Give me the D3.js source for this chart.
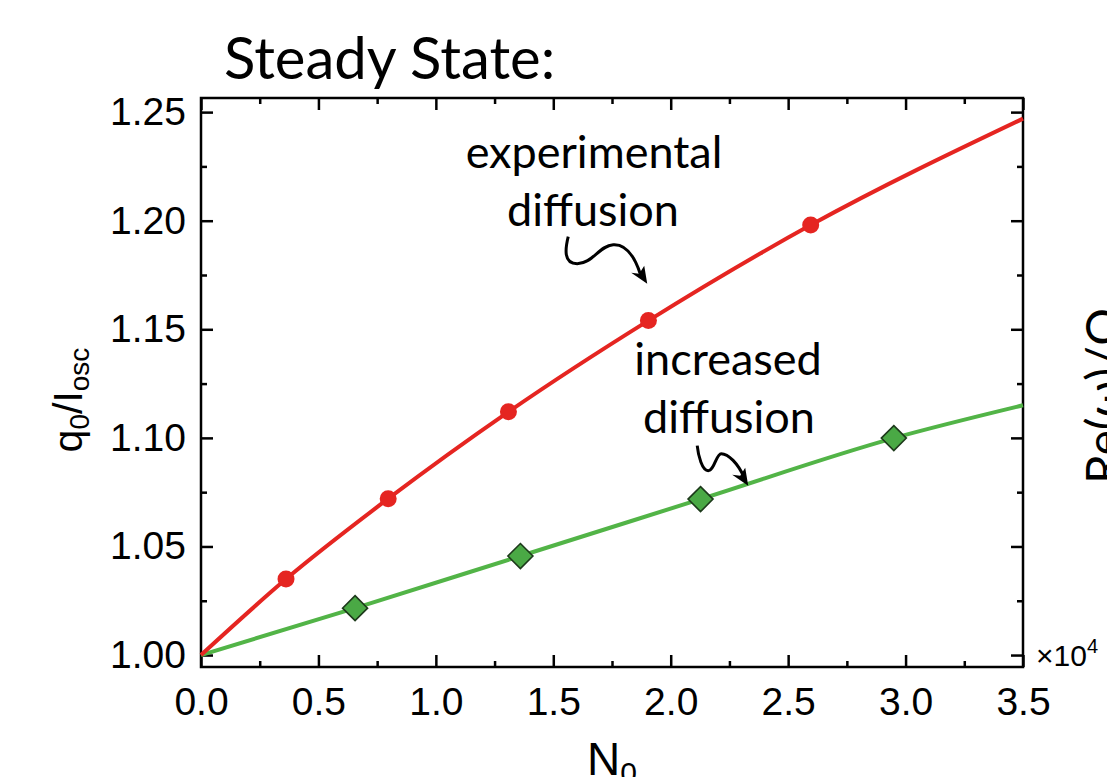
<!DOCTYPE html>
<html>
<head>
<meta charset="utf-8">
<script src="https://cdn.jsdelivr.net/npm/d3@7"></script>
<style>
body { margin: 0; background: #fff; }
svg { display: block; }
</style>
</head>
<body>
<svg id="chart" width="1107" height="777"></svg>
<script>
// data (N0 in units of 1e4)
var expN = [0.362, 0.797, 1.309, 1.905, 2.596];
var expQ = [1.035, 1.072, 1.112, 1.154, 1.198];
var incN = [0.656, 1.36, 2.127, 2.95];
var incQ = [1.0216, 1.0456, 1.0718, 1.0999];
// fitted curves
var expFitN = [0, 0.362, 0.797, 1.309, 1.905, 2.596, 3.5];
var expFitQ = [1.000, 1.035, 1.072, 1.112, 1.154, 1.198, 1.247];
var incFitN = [0, 0.656, 1.36, 2.127, 2.95, 3.5];
var incFitQ = [1.000, 1.0216, 1.0456, 1.0718, 1.0999, 1.115];
// ticks
var xTicks = [0, 0.5, 1.0, 1.5, 2.0, 2.5, 3.0, 3.5];
var xMinor = [0.25, 0.75, 1.25, 1.75, 2.25, 2.75, 3.25];
var yTicks = [1.00, 1.05, 1.10, 1.15, 1.20, 1.25];
var yMinor = [1.025, 1.075, 1.125, 1.175, 1.225];

var svg = d3.select("#chart");
var x = d3.scaleLinear().domain([0, 3.5]).range([201, 1023]);
var y = d3.scaleLinear().domain([0.9945, 1.2565]).range([667, 98]);
var tickFont = "'Liberation Sans', Arial, sans-serif";
var noteFont = "Lato, 'Open Sans', sans-serif";

// title
svg.append("text").attr("x", 224).attr("y", 79)
    .style("font-family", noteFont).style("font-size", "58px")
    .text("Steady State:");

// axes: major + minor ticks on all four sides, pointing inward
function styleAxis(g) {
    g.select(".domain").remove();
    g.selectAll(".tick line").attr("stroke", "#000").attr("stroke-width", 2.5);
    g.selectAll(".tick text").style("font-family", tickFont).style("font-size", "39px").attr("fill", "#000");
}
var sides = [
    {ax: d3.axisLeft, tr: "translate(" + x.range()[0] + ",0)", sc: y, major: yTicks, minor: yMinor, fmt: d3.format(".2f"), label: true, pad: 15},
    {ax: d3.axisRight, tr: "translate(" + x.range()[1] + ",0)", sc: y, major: yTicks, minor: yMinor, label: false},
    {ax: d3.axisBottom, tr: "translate(0," + y.range()[0] + ")", sc: x, major: xTicks, minor: xMinor, fmt: d3.format(".1f"), label: true, pad: 20},
    {ax: d3.axisTop, tr: "translate(0," + y.range()[1] + ")", sc: x, major: xTicks, minor: xMinor, label: false}
];
sides.forEach(function(s) {
    var gMaj = svg.append("g").attr("transform", s.tr)
        .call(s.ax(s.sc).tickValues(s.major).tickSizeInner(-12).tickSizeOuter(0)
            .tickPadding(s.pad || 0).tickFormat(s.label ? s.fmt : ""));
    styleAxis(gMaj);
    var gMin = svg.append("g").attr("transform", s.tr)
        .call(s.ax(s.sc).tickValues(s.minor).tickSizeInner(-6).tickSizeOuter(0).tickFormat(""));
    styleAxis(gMin);
});

// frame
svg.append("rect")
    .attr("x", x.range()[0]).attr("y", y.range()[1])
    .attr("width", x.range()[1] - x.range()[0]).attr("height", y.range()[0] - y.range()[1])
    .attr("fill", "none").attr("stroke", "#000").attr("stroke-width", 2.5);

// axis labels
var xl = svg.append("text").attr("x", 612).attr("y", 775).attr("text-anchor", "middle")
    .style("font-family", tickFont).style("font-size", "46px");
xl.append("tspan").text("N");
xl.append("tspan").attr("dy", 8).style("font-size", "30px").text("0");

var yl = svg.append("text").attr("transform", "translate(82,400) rotate(-90)")
    .attr("text-anchor", "middle")
    .style("font-family", tickFont).style("font-size", "41px");
yl.append("tspan").text("q");
yl.append("tspan").attr("dy", 7).style("font-size", "28px").text("0");
yl.append("tspan").attr("dy", -7).text("/I");
yl.append("tspan").attr("dy", 7).style("font-size", "28px").text("osc");

// exponent
var ex = svg.append("text").attr("x", 1036).attr("y", 666)
    .style("font-family", tickFont).style("font-size", "30px");
ex.append("tspan").text("\u00d710");
ex.append("tspan").attr("dy", -13).style("font-size", "20px").text("4");

// cut-off label of the neighbouring panel
svg.append("text").attr("transform", "translate(1121,484) rotate(-90)")
    .style("font-family", noteFont).style("font-size", "48px")
    .text("Re(\u03c9)/\u03a9");

// fitted curves
var lineGen = d3.line().curve(d3.curveMonotoneX)
    .x(function(d) { return x(d[0]); }).y(function(d) { return y(d[1]); });
svg.append("path").datum(d3.zip(incFitN, incFitQ)).attr("d", lineGen)
    .attr("fill", "none").attr("stroke", "#52b447").attr("stroke-width", 4);
svg.append("path").datum(d3.zip(expFitN, expFitQ)).attr("d", lineGen)
    .attr("fill", "none").attr("stroke", "#e52521").attr("stroke-width", 4);

// markers
svg.selectAll("circle.exp").data(d3.zip(expN, expQ)).enter().append("circle")
    .attr("class", "exp")
    .attr("cx", function(d) { return x(d[0]); }).attr("cy", function(d) { return y(d[1]); })
    .attr("r", 8.5).attr("fill", "#e52521");
svg.selectAll("path.inc").data(d3.zip(incN, incQ)).enter().append("path")
    .attr("class", "inc")
    .attr("transform", function(d) { return "translate(" + x(d[0]) + "," + y(d[1]) + ")"; })
    .attr("d", "M0,-12.5L12.5,0L0,12.5L-12.5,0Z")
    .attr("fill", "#4aa945").attr("stroke", "#1d3a1b").attr("stroke-width", 1.6);

// annotations with squiggly arrows (tip anchored in data units)
var notes = [
    {lines: ["experimental", "diffusion"], tx: [594, 593], ty: [168, 226],
     tip: [1.90, 1.171], squig: "M-79,-47C-82,-35 -84,-20 -70,-20C-55,-20 -48,-38 -34,-39C-20,-40 -12,-25 -7,-10"},
    {lines: ["increased", "diffusion"], tx: [728, 729], ty: [375, 433],
     tip: [2.33, 1.078], squig: "M-51,-40C-50,-30 -46,-15 -40,-15C-34,-15 -32,-32 -27,-32C-20,-32 -10,-22 -4,-8"}
];
notes.forEach(function(n) {
    n.lines.forEach(function(t, i) {
        svg.append("text").attr("x", n.tx[i]).attr("y", n.ty[i])
            .attr("text-anchor", "middle")
            .style("font-family", noteFont).style("font-size", "45px")
            .text(t);
    });
    var g = svg.append("g").attr("transform", "translate(" + x(n.tip[0]) + "," + y(n.tip[1]) + ")");
    g.append("path").attr("d", n.squig).attr("fill", "none").attr("stroke", "#000").attr("stroke-width", 3);
    g.append("path").attr("d", "M0,0L-16,-11L-8,-10L-3,-18Z").attr("fill", "#000");
});
</script>
</body>
</html>
